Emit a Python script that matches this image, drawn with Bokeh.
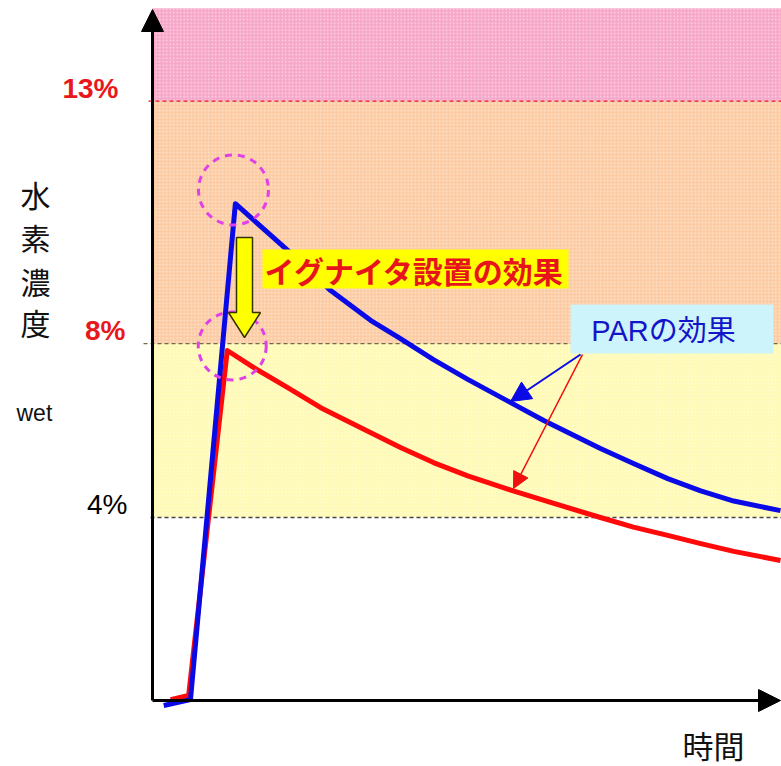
from bokeh.plotting import figure
from bokeh.models import Range1d, Arrow, NormalHead
from bokeh.core.properties import value
from bokeh.embed import file_html
from bokeh.resources import INLINE

# ---- data (schematic units: time, hydrogen concentration level) ----
time_blue = [0.18, 0.61, 1.33, 2.17, 2.86, 3.50, 3.98, 4.51, 5.06, 5.75, 6.28,
             7.19, 7.72, 8.27, 8.80, 9.33, 10.08]
conc_blue = [-0.11, 0.02, 10.86, 9.84, 8.96, 8.31, 7.91, 7.45, 7.02, 6.51, 6.12,
             5.51, 5.18, 4.85, 4.58, 4.36, 4.15]
time_red = [0.29, 0.58, 1.20, 1.62, 2.17, 2.70, 3.98, 4.51, 5.06, 5.75, 6.39,
            7.19, 7.72, 8.27, 8.80, 9.33, 10.08]
conc_red = [0.02, 0.11, 7.65, 7.28, 6.84, 6.40, 5.53, 5.20, 4.91, 4.60, 4.33,
            4.00, 3.79, 3.61, 3.43, 3.26, 3.06]

band_bottom = [4.0, 7.8, 13.1]
band_top = [7.8, 13.1, 15.13]
band_colors = ["#FFFAB4", "#FCCBA3", "#F7A7C9"]

level_values = [13.1, 7.8, 4.0]
level_labels = ["13%", "8%", "4%"]
level_label_colors = ["#E8181C", "#E8181C", "#000000"]
level_label_styles = ["bold", "bold", "normal"]
level_line_colors = ["#E8181C", "#6E6E40", "#444444"]

y_title_chars = ["水", "素", "濃", "度"]

# ---- pixel helpers for annotation placement ----
PX_X = 62.3
PX_Y = 45.75


def X(px):
    return (px - 152) / PX_X


def Y(py):
    return (700 - py) / PX_Y


W, H = 781, 766
p = figure(width=W, height=H, output_backend="svg", toolbar_location=None,
           x_range=Range1d(X(0), X(W)), y_range=Range1d(Y(H), Y(0)),
           min_border=0, min_border_left=0, min_border_right=0,
           min_border_top=0, min_border_bottom=0)
p.axis.visible = False
p.grid.visible = False
p.outline_line_color = None
p.background_fill_color = "white"
p.border_fill_color = "white"

# bands
p.quad(left=0, right=X(W) + 1, bottom=band_bottom, top=band_top,
       fill_color=band_colors, line_color=None,
       hatch_pattern="dot", hatch_color="white", hatch_alpha=0.55,
       hatch_scale=3.5, hatch_weight=1)

# level lines
p.segment(x0=[X(148), X(143), X(150)], y0=level_values,
          x1=[X(W)] * 3, y1=level_values,
          line_color=level_line_colors, line_width=1.3, line_dash="4 3")

# level labels
for v, lab, col, st, rx in zip(level_values, level_labels, level_label_colors,
                               level_label_styles, [118, 125, 127]):
    p.text(x=[X(rx)], y=[v + 0.28], text=[lab], text_color=col,
           text_font=value("Liberation Sans"), text_font_style=st,
           text_font_size="28px", text_align="right", text_baseline="middle")

# y title
for ch, py in zip(y_title_chars, [193, 236, 280, 321]):
    p.text(x=[X(35)], y=[Y(py)], text=[ch], text_color="#111111",
           text_font=value("Noto Sans CJK JP"),
           text_font_size="30px", text_align="center", text_baseline="middle")
p.text(x=[X(16)], y=[Y(412)], text=["wet"], text_color="#111111",
       text_font=value("Liberation Sans"), text_font_size="23px",
       text_align="left", text_baseline="middle")
p.text(x=[X(713)], y=[Y(744)], text=["時間"], text_color="#111111",
       text_font=value("Noto Sans CJK JP"),
       text_font_size="31px", text_align="center", text_baseline="middle")

# curves
p.line(time_red, conc_red, line_color="#FF0A0A", line_width=5, line_join="round")
p.line(time_blue, conc_blue, line_color="#0A0AE6", line_width=5, line_join="round")

# dashed magenta circles at the peaks
p.scatter(x=[time_blue[2] - 0.03, time_red[2] + 0.08],
          y=[conc_blue[2] + 0.3, conc_red[2] + 0.1],
          size=[70, 68], marker="circle", fill_alpha=0,
          line_color="#E040E8", line_width=3, line_dash="7 6")

# yellow block arrow
ax = [236, 252, 252, 260, 244, 228, 236]
ay = [237, 237, 312, 312, 337, 312, 312]
p.patch([X(v) for v in ax], [Y(v) for v in ay], fill_color="#FFFF00",
        line_color="#333300", line_width=1.5)

# igniter label box
p.quad(left=[X(262)], right=[X(568)], top=[Y(249)], bottom=[Y(288)],
       fill_color="#FFFF00", line_color=None)
p.text(x=[X(414)], y=[Y(269)], text=["イグナイタ設置の効果"], text_color="#E8141C",
       text_font=value("Noto Sans CJK JP"), text_font_style="bold",
       text_font_size="30px", text_align="center", text_baseline="middle")

# PAR label box
p.quad(left=[X(570)], right=[X(773)], top=[Y(304)], bottom=[Y(353)],
       fill_color="#CDF4FA", line_color=None)
p.text(x=[X(663)], y=[Y(330)], text=["PARの効果"], text_color="#1414C8",
       text_font=value("Liberation Sans, Noto Sans CJK JP"),
       text_font_size="29px", text_align="center", text_baseline="middle")

# PAR arrows
p.add_layout(Arrow(x_start=X(580), y_start=Y(354), x_end=X(510), y_end=Y(401),
                   line_color="#0A0AE6", line_width=2,
                   end=NormalHead(size=20, fill_color="#0A0AE6", line_color="#0A0AE6")))
p.add_layout(Arrow(x_start=X(582), y_start=Y(354), x_end=X(513), y_end=Y(488),
                   line_color="#F01010", line_width=1.6,
                   end=NormalHead(size=16, fill_color="#F01010", line_color="#F01010")))

# axes with arrowheads
p.add_layout(Arrow(x_start=0, y_start=0, x_end=0, y_end=Y(9),
                   line_color="black", line_width=3,
                   end=NormalHead(size=22, fill_color="black", line_color="black")))
p.add_layout(Arrow(x_start=0, y_start=0, x_end=X(780), y_end=0,
                   line_color="black", line_width=3,
                   end=NormalHead(size=22, fill_color="black", line_color="black")))

open("out.html", "w").write(file_html(p, INLINE))
